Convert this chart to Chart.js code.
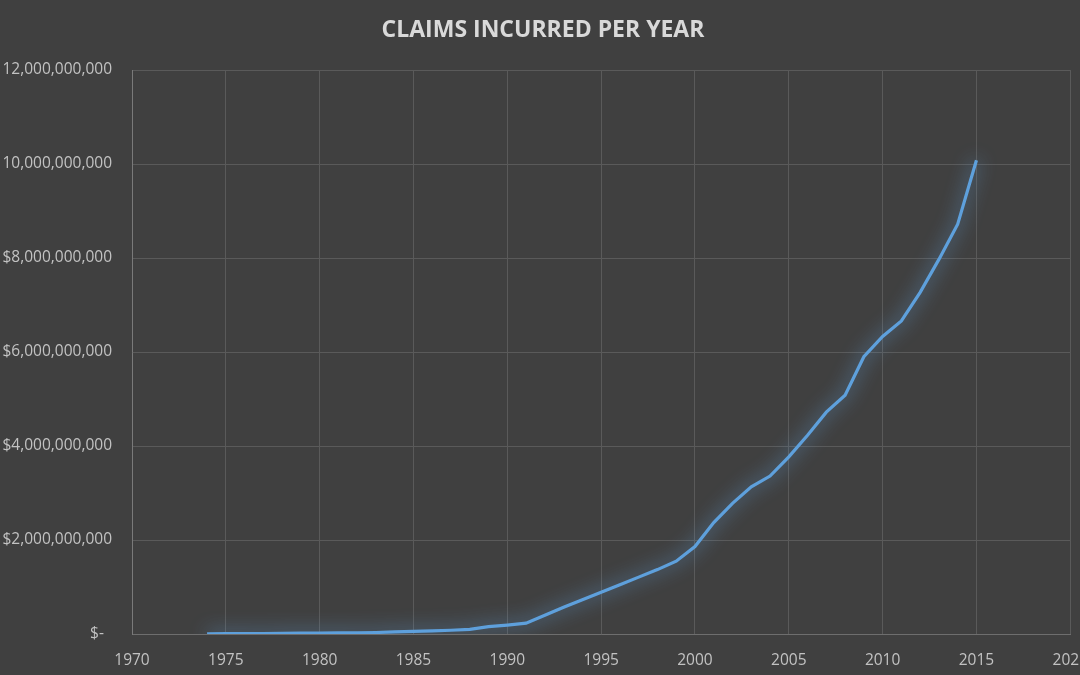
<!DOCTYPE html>
<html>
<head>
<meta charset="utf-8">
<script src="https://cdn.jsdelivr.net/npm/chart.js@4/dist/chart.umd.min.js"></script>
<style>
    html, body { margin: 0; padding: 0; background: #404040; overflow: hidden; }
    #wrap { width: 1105px; height: 675px; position: relative; }
</style>
</head>
<body>
<div id="wrap"><canvas id="claims-chart"></canvas></div>
<script>
// ========================================
// Data
// ========================================
const years = [
    1974, 1975, 1976, 1977, 1978, 1979, 1980, 1981, 1982, 1983,
    1984, 1985, 1986, 1987, 1988, 1989, 1990, 1991, 1992, 1993,
    1994, 1995, 1996, 1997, 1998, 1999, 2000, 2001, 2002, 2003,
    2004, 2005, 2006, 2007, 2008, 2009, 2010, 2011, 2012, 2013,
    2014, 2015
];

// claims incurred, in dollars
const claims = [
    5e6, 7e6, 9e6, 11e6, 14e6, 17e6, 20e6, 23e6, 27e6, 32e6,
    45e6, 55e6, 65e6, 80e6, 100e6, 155e6, 190e6, 230e6, 400e6, 570e6,
    730e6, 890e6, 1.05e9, 1.21e9, 1.37e9, 1.55e9, 1.86e9, 2.37e9, 2.78e9, 3.13e9,
    3.36e9, 3.77e9, 4.23e9, 4.72e9, 5.08e9, 5.90e9, 6.33e9, 6.66e9, 7.27e9, 7.97e9,
    8.72e9, 10.08e9
];

// y tick labels as they appear (the $ of the two widest is clipped)
const yTickLabels = [
    '$-  ', '$2,000,000,000', '$4,000,000,000', '$6,000,000,000',
    '$8,000,000,000', '10,000,000,000', '12,000,000,000'
];

const CHART_TITLE = 'CLAIMS INCURRED PER YEAR';

const TICK_COLOR = '#c2c2c2';
const GRID_COLOR = '#5a5a5a';
const LINE_COLOR = '#5ea0dc';

// ========================================
// Plugins
// ========================================
// glow round the line
const glowPlugin = {
    id: 'glow',
    beforeDatasetDraw(chart) {
        const ctx = chart.ctx;
        ctx.save();
        ctx.shadowColor = 'rgba(100, 165, 225, 1)';
        ctx.shadowBlur = 18;
    },
    afterDatasetDraw(chart) {
        chart.ctx.restore();
    }
};

// title, centred a little right of the canvas middle like the original
const titlePlugin = {
    id: 'topTitle',
    afterDraw(chart) {
        const ctx = chart.ctx;
        ctx.save();
        ctx.font = 'bold 23px "Open Sans", sans-serif';
        ctx.fillStyle = '#d9d9d9';
        ctx.textAlign = 'center';
        ctx.textBaseline = 'middle';
        ctx.fillText(CHART_TITLE, 543, 30);
        ctx.restore();
    }
};

// ========================================
// Chart
// ========================================
const ctx = document.getElementById('claims-chart').getContext('2d');

new Chart(ctx, {
    type: 'line',
    data: {
        datasets: [{
            label: 'Claims incurred',
            data: years.map((y, i) => ({ x: y, y: claims[i] })),
            borderColor: LINE_COLOR,
            borderWidth: 3.2,
            pointRadius: 0,
            tension: 0,
            fill: false
        }]
    },
    plugins: [glowPlugin, titlePlugin],
    options: {
        responsive: true,
        maintainAspectRatio: false,
        animation: false,
        layout: { padding: { left: 0, right: 0, top: 70, bottom: 0 } },
        plugins: {
            legend: { display: false },
            tooltip: { enabled: false },
            title: { display: false }
        },
        scales: {
            x: {
                type: 'linear',
                min: 1970,
                max: 2020,
                ticks: {
                    stepSize: 5,
                    color: TICK_COLOR,
                    padding: 17,
                    maxRotation: 0,
                    font: { family: '"Open Sans", sans-serif', size: 15.5 },
                    callback: value => String(value)
                },
                grid: { color: GRID_COLOR, drawTicks: false },
                border: { color: '#6e6e6e' },
                afterFit: scale => { scale.height = 41; }
            },
            y: {
                min: 0,
                max: 12e9,
                ticks: {
                    stepSize: 2e9,
                    color: TICK_COLOR,
                    padding: 20,
                    font: { family: '"Open Sans", sans-serif', size: 15.5 },
                    callback: value => yTickLabels[Math.round(value / 2e9)]
                },
                grid: { color: GRID_COLOR, drawTicks: false },
                border: { color: '#7a7a7a' },
                afterFit: scale => { scale.width = 132; }
            }
        }
    }
});
</script>
</body>
</html>
